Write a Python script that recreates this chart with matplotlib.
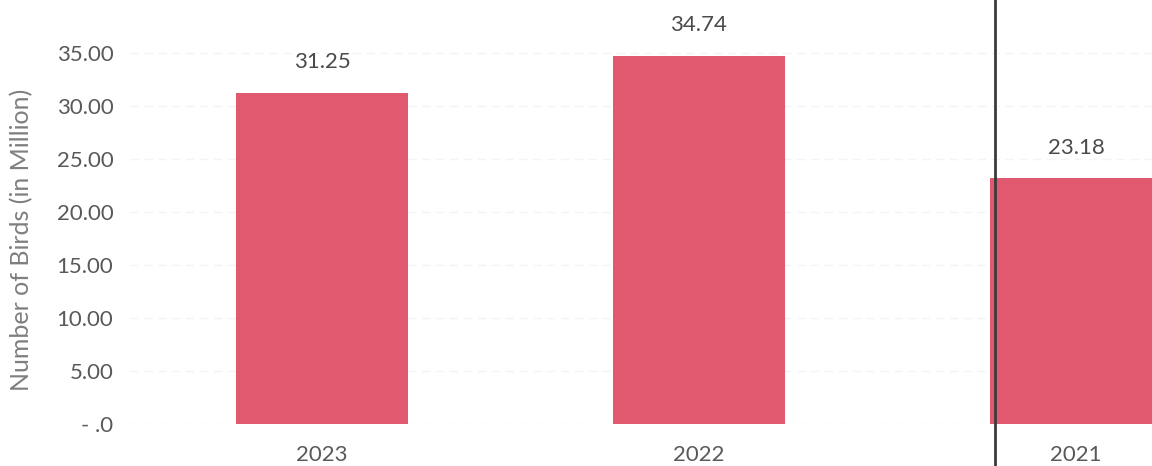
import matplotlib.pyplot as plt

# data
years = ['2023', '2022', '2021']
birds = [31.25, 34.74, 23.18]
yticks = [0, 5, 10, 15, 20, 25, 30, 35]
ytick_labels = ['- .0', '5.00', '10.00', '15.00', '20.00', '25.00', '30.00', '35.00']

bar_color = '#e0596e'
text_grey = '#595959'

plt.rcParams['font.family'] = ['Lato', 'DejaVu Sans']

fig = plt.figure(figsize=(11.52, 4.66), dpi=100)
ax = fig.add_axes([130 / 1152, 42 / 466, 1 - 130 / 1152, 1 - 42 / 466])

xpos = list(range(len(years)))
width = 0.456
bars = ax.bar(xpos, birds, width=width, color=bar_color, zorder=2)

for x, v in zip(xpos, birds):
    ax.annotate(f'{v:.2f}', (x, v), xytext=(0, 22), textcoords='offset points',
                ha='center', va='center', fontsize=16, color='#4a4a4a')

# page edge seen in the scan, just at the left of the last bar
ax.axvline(xpos[-1] - width / 2 + 0.013, ymin=-0.12, ymax=1, color='#3a3a3a',
           lw=2, zorder=3, clip_on=False)

ax.set_xlim(-0.509, 2.2016)
ax.set_ylim(0, 40)
ax.set_xticks(xpos)
ax.set_xticklabels(years, fontsize=16, color=text_grey)
ax.set_yticks(yticks)
ax.set_yticklabels(ytick_labels, fontsize=16, color=text_grey)
ax.tick_params(axis='x', length=0, pad=15)
ax.tick_params(axis='y', length=0, pad=12)

ax.yaxis.grid(True, color='#f4f4f4', lw=1, ls=(0, (6, 4)), zorder=0)
for s in ax.spines.values():
    s.set_visible(False)

fig.text(22 / 1152, 1 - 240 / 466, 'Number of Birds (in Million)', rotation=90,
         ha='center', va='center', fontsize=18, color='#7f7f7f')

fig.savefig('out.png', dpi=100)
